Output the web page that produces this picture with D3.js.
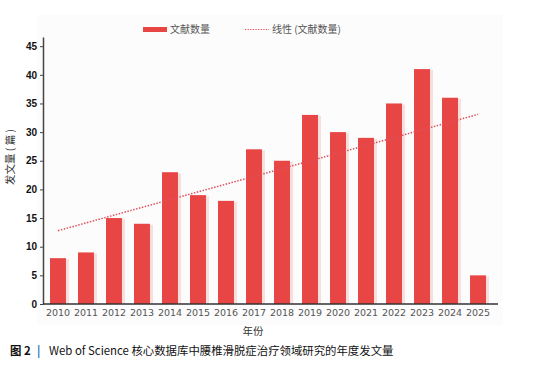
<!DOCTYPE html>
<html>
<head>
<meta charset="utf-8">
<script src="https://cdn.jsdelivr.net/npm/d3@7"></script>
<style>
  body { margin: 0; background: #fff; }
  text { font-family: "Noto Sans CJK SC", "Liberation Sans", sans-serif; }
</style>
</head>
<body>
<svg id="chart" width="556" height="366"></svg>
<script>
const years = ["2010", "2011", "2012", "2013", "2014", "2015", "2016", "2017",
  "2018", "2019", "2020", "2021", "2022", "2023", "2024", "2025"];
const counts = [8, 9, 15, 14, 23, 19, 18, 27, 25, 33, 30, 29, 35, 41, 36, 5];
const trendEnds = [12.8, 33.1]; // linear trend at 2010 and 2025
const yTicks = [0, 5, 10, 15, 20, 25, 30, 35, 40, 45];

const RED = "#e84545";
const svg = d3.select("#chart");

// faint chart area
svg.append("rect")
  .attr("x", 37).attr("y", 15).attr("width", 466).attr("height", 310)
  .attr("fill", "#fcfcfc");

const x = d3.scaleBand().domain(years).range([43, 493]).paddingInner(0.43).paddingOuter(0.25);
const y = d3.scaleLinear().domain([0, 46.6]).range([304, 37]);

// bars with soft shadow
const bars = svg.append("g");
bars.selectAll("rect.shadow")
  .data(counts)
  .enter().append("rect")
  .attr("class", "shadow")
  .attr("x", (d, i) => x(years[i]) + 3)
  .attr("y", d => y(d) + 1)
  .attr("width", x.bandwidth())
  .attr("height", d => y(0) - y(d) - 1)
  .attr("fill", "#f9dede");
bars.selectAll("rect.bar")
  .data(counts)
  .enter().append("rect")
  .attr("class", "bar")
  .attr("x", (d, i) => x(years[i]))
  .attr("y", d => y(d))
  .attr("width", x.bandwidth())
  .attr("height", d => y(0) - y(d))
  .attr("fill", RED);

// trend line
const xc = yr => x(yr) + x.bandwidth() / 2;
svg.append("line")
  .attr("x1", xc(years[0])).attr("y1", y(trendEnds[0]))
  .attr("x2", xc(years[years.length - 1])).attr("y2", y(trendEnds[1]))
  .attr("stroke", "#e0505a")
  .attr("stroke-width", 1.5)
  .attr("stroke-dasharray", "1.5,1.5");

// y axis
const yAxis = svg.append("g")
  .attr("transform", "translate(43,0)")
  .call(d3.axisLeft(y).tickValues(yTicks).tickSize(3).tickSizeOuter(0));
yAxis.select(".domain").attr("stroke", "#444").attr("stroke-width", 1.5);
yAxis.selectAll(".tick line").attr("stroke", "#444");
yAxis.selectAll(".tick text")
  .attr("x", -6)
  .attr("fill", "#111")
  .style("font-size", "10px")
  .style("font-weight", "bold")
  .style("font-family", "'Liberation Sans', sans-serif");

// x axis
const xAxis = svg.append("g")
  .attr("transform", "translate(0,304)")
  .call(d3.axisBottom(x).tickSize(0).tickSizeOuter(0));
xAxis.select(".domain").remove();
xAxis.append("line")
  .attr("x1", 43).attr("x2", 498)
  .attr("stroke", "#333").attr("stroke-width", 1.5);
xAxis.selectAll(".tick text")
  .attr("dy", "0.95em")
  .attr("fill", "#555")
  .style("font-size", "9.5px")
  .style("font-family", "'DejaVu Sans', sans-serif");

// axis titles
svg.append("text")
  .attr("transform", "translate(14,157) rotate(-90)")
  .attr("text-anchor", "middle")
  .attr("fill", "#333")
  .style("font-size", "10.5px")
  .text("发文量 ( 篇 )");
svg.append("text")
  .attr("x", 253).attr("y", 335)
  .attr("text-anchor", "middle")
  .attr("fill", "#333")
  .style("font-size", "10.5px")
  .text("年份");

// legend
const legend = svg.append("g");
legend.append("rect").attr("x", 143).attr("y", 27).attr("width", 24).attr("height", 5).attr("fill", RED);
legend.append("text").attr("x", 170).attr("y", 33).attr("fill", "#555").style("font-size", "10px").text("文献数量");
legend.append("line").attr("x1", 245).attr("x2", 269).attr("y1", 29.5).attr("y2", 29.5)
  .attr("stroke", "#e0505a").attr("stroke-width", 1.2).attr("stroke-dasharray", "1.3,1.3");
legend.append("text").attr("x", 272).attr("y", 33).attr("fill", "#555").style("font-size", "10px").text("线性 (文献数量)");

// caption
const cap = svg.append("text").attr("x", 10).attr("y", 355).style("font-size", "11.4px").attr("fill", "#111");
cap.append("tspan").style("font-weight", "bold").text("图 2");
cap.append("tspan").attr("x", 37).attr("fill", "#2a6db5").style("font-weight", "bold").text("|");
cap.append("tspan").attr("x", 49).text("Web of Science 核心数据库中腰椎滑脱症治疗领域研究的年度发文量");
</script>
</body>
</html>
